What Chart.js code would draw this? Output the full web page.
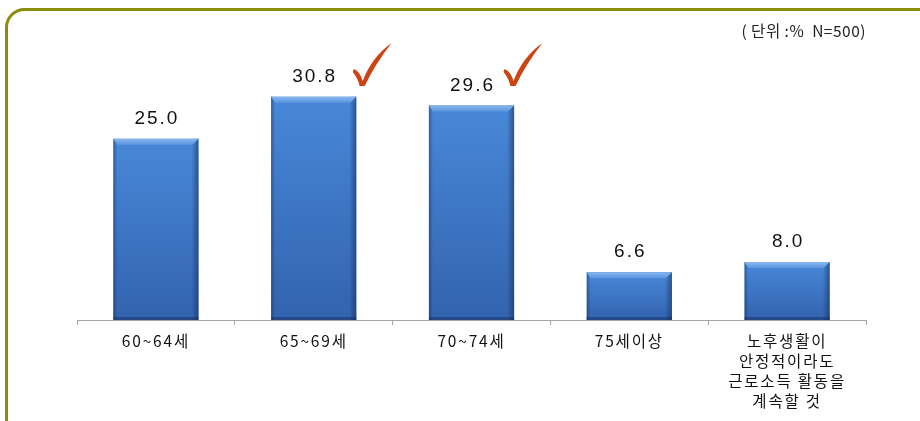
<!DOCTYPE html>
<html><head><meta charset="utf-8">
<script src="https://cdn.jsdelivr.net/npm/chart.js@4/dist/chart.umd.min.js"></script>
<style>html,body{margin:0;padding:0;background:#fff;}#wrap{width:920px;height:421px;position:relative;}</style>
</head><body><div id="wrap"><canvas id="c" width="920" height="421"></canvas></div>
<script>
const categories = [["60~64세"], ["65~69세"], ["70~74세"], ["75세이상"], ["노후생활이", "안정적이라도", "근로소득 활동을", "계속할 것"]];
const values = [25.0, 30.8, 29.6, 6.6, 8.0];
const checkedIdx = [1, 2];
const unitText = "( 단위 :%  N=500)";

const FONT = "'Noto Sans CJK KR', 'Noto Sans', sans-serif";

const decor = {
  id: 'decor',
  beforeDraw(chart) {
    const ctx = chart.ctx;
    ctx.save();
    ctx.strokeStyle = '#8c8c0c';
    ctx.lineWidth = 3;
    ctx.beginPath();
    ctx.roundRect(6.5, 9.5, 960, 480, 18);
    ctx.stroke();
    ctx.restore();
    ctx.letterSpacing = '1.8px';
  },
  afterDraw(chart) {
    const ctx = chart.ctx;
    ctx.letterSpacing = '0.5px';
    ctx.save();
    ctx.fillStyle = '#222';
    ctx.font = "15.5px " + FONT;
    ctx.textAlign = 'right';
    ctx.textBaseline = 'middle';
    ctx.fillText(unitText, 866, 31);
    ctx.restore();
    ctx.letterSpacing = '0px';
  },
  afterDatasetsDraw(chart) {
    const ctx = chart.ctx;
    const meta = chart.getDatasetMeta(0);
    meta.data.forEach((bar, i) => {
      const w = bar.width, l = bar.x - w / 2, r = bar.x + w / 2, t = bar.y, b = bar.base;
      ctx.save();
      let g = ctx.createLinearGradient(0, t, 0, b);
      g.addColorStop(0, '#4888d8');
      g.addColorStop(1, '#3263ae');
      ctx.fillStyle = g;
      ctx.fillRect(l, t, w, b - t);
      let gr = ctx.createLinearGradient(r - 7, 0, r, 0);
      gr.addColorStop(0, 'rgba(20,40,90,0)');
      gr.addColorStop(1, 'rgba(20,40,90,0.55)');
      ctx.fillStyle = gr;
      ctx.fillRect(r - 7, t, 7, b - t);
      let gl = ctx.createLinearGradient(l, 0, l + 4, 0);
      gl.addColorStop(0, 'rgba(20,40,90,0.45)');
      gl.addColorStop(1, 'rgba(20,40,90,0)');
      ctx.fillStyle = gl;
      ctx.fillRect(l, t, 4, b - t);
      ctx.beginPath();
      ctx.moveTo(l, t); ctx.lineTo(r, t); ctx.lineTo(r - 6, t + 6); ctx.lineTo(l + 4, t + 6); ctx.closePath();
      let gt = ctx.createLinearGradient(0, t, 0, t + 6);
      gt.addColorStop(0, '#8ab8ee');
      gt.addColorStop(1, '#5a95e0');
      ctx.fillStyle = gt;
      ctx.fill();
      ctx.fillStyle = 'rgba(20,40,90,0.45)';
      ctx.fillRect(l, b - 3, w, 3);
      ctx.restore();

      ctx.save();
      ctx.letterSpacing = '2px';
      ctx.fillStyle = '#111';
      ctx.font = "19px 'Liberation Sans', Arial, sans-serif";
      ctx.textAlign = 'center';
      ctx.textBaseline = 'middle';
      ctx.fillText(values[i].toFixed(1), bar.x + 1, t - 20);
      ctx.restore();
    });
    const offs = {1: 40, 2: 33};
    checkedIdx.forEach(i => {
      const bar = meta.data[i];
      const x0 = bar.x + offs[i];
      const y0 = chart.chartArea.top + 41;
      ctx.save();
      ctx.fillStyle = '#cc4412';
      ctx.beginPath();
      ctx.moveTo(x0, y0 - 2);
      ctx.quadraticCurveTo(x0 + 6, y0, x0 + 9, y0 + 10);
      ctx.quadraticCurveTo(x0 + 18, y0 - 14, x0 + 38, y0 - 28);
      ctx.quadraticCurveTo(x0 + 22, y0 - 8, x0 + 11, y0 + 15);
      ctx.lineTo(x0 + 6, y0 + 15);
      ctx.quadraticCurveTo(x0 + 4, y0 + 7, x0 - 1, y0 + 1);
      ctx.closePath();
      ctx.fill();
      ctx.restore();
    });
  }
};

new Chart(document.getElementById('c'), {
  type: 'bar',
  data: {
    labels: categories,
    datasets: [{
      data: values,
      backgroundColor: 'rgba(0,0,0,0)',
      borderWidth: 0,
      barPercentage: 0.54,
      categoryPercentage: 1.0
    }]
  },
  options: {
    responsive: false,
    animation: false,
    devicePixelRatio: 1,
    layout: { padding: { left: 77, right: 54, top: 30, bottom: 0 } },
    plugins: { legend: { display: false }, tooltip: { enabled: false } },
    scales: {
      x: {
        offset: true,
        grid: { display: true, drawOnChartArea: false, drawTicks: true, tickLength: 5, color: '#a6a6a6', offset: true },
        border: { display: true, color: '#a6a6a6', width: 1 },
        ticks: { color: '#111', font: { family: FONT, size: 15.5, lineHeight: 1.3 }, padding: 6, maxRotation: 0, autoSkip: false },
        afterFit(scale) { scale.height = 101; }
      },
      y: {
        display: false,
        min: 0, max: 40
      }
    }
  },
  plugins: [decor]
});
</script>
</body></html>
